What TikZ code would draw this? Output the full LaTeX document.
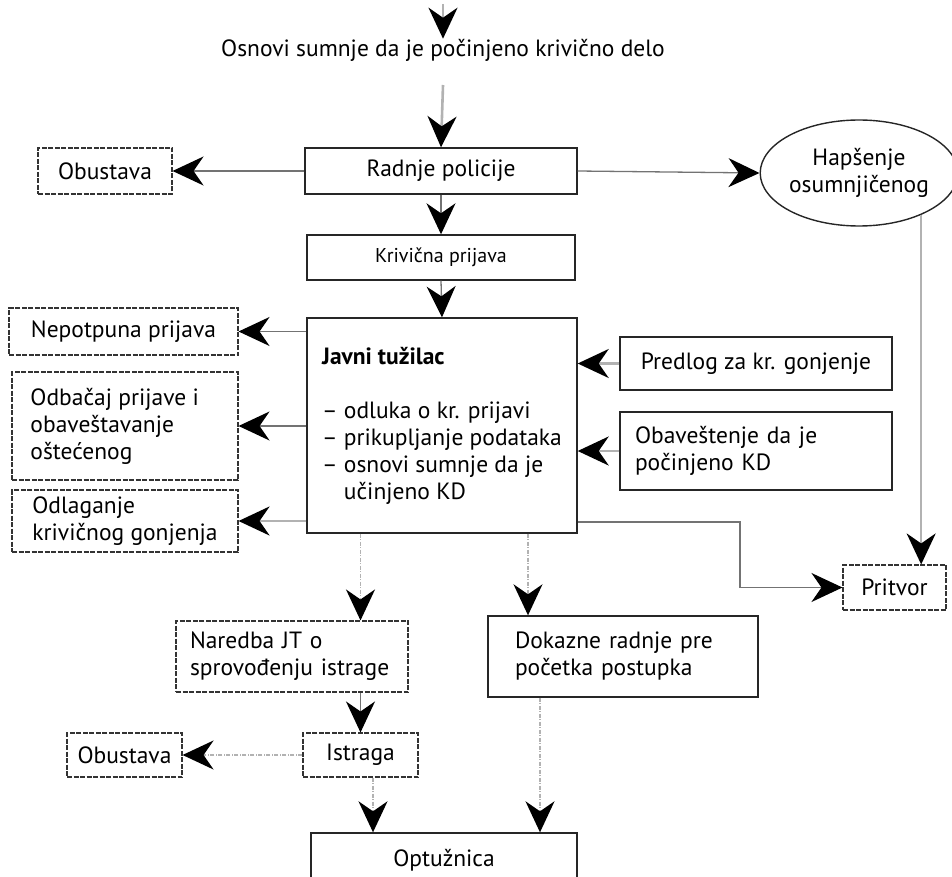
\documentclass[tikz,border=0pt]{standalone}
\usepackage{fontspec}
\setmainfont{PT Sans}
\usepackage{tikz}
\usetikzlibrary{arrows.meta,shapes.geometric}

\begin{document}
\begin{tikzpicture}[x=1pt, y=-1pt, font=\fontsize{23.5}{27}\selectfont,
  >={Stealth[length=31pt, width=29pt, inset=10pt, black]},
  box/.style = {draw=black!85, line width=1.4pt, inner sep=0pt},
  dbox/.style = {draw=black!80, line width=1.1pt, dash pattern=on 5pt off 1.5pt, inner sep=0pt},
  ln/.style = {draw=black!55, line width=1.3pt},
  lg/.style = {draw=black!30, line width=2.6pt},
  ld/.style = {draw=black!30, line width=1.6pt, dash pattern=on 4pt off 1.5pt on 1pt off 1.5pt}]
                \clip (0,0) rectangle (952,877);
                \coordinate (top) at (443,4);
                \coordinate (a1) at (443,85);
                \node[inner sep=0pt] (osn) at (443,50) {Osnovi sumnje da je počinjeno krivično delo};
                \node[box, minimum width=272, minimum height=46] (rad) at (441,171) {Radnje policije};
                \node[dbox, minimum width=134, minimum height=46] (obu1) at (105,171) {Obustava};
                \node[draw=black!85, line width=1.4pt, ellipse, inner sep=0pt, minimum width=186, minimum height=106, align=center] (hap) at (859,173) {Hapšenje\\osumnjičenog};
                \node[box, minimum width=268, minimum height=45, font=\fontsize{20}{22}\selectfont] (kp) at (441,257.5) {Krivična prijava};
                \node[box, minimum width=270, minimum height=215, align=left] (jt) at (442,425.5) {\textbf{Javni tužilac}\\[27pt]– odluka o kr. prijavi\\– prikupljanje podataka\\– osnovi sumnje da je\\\hphantom{– }učinjeno KD};
                \node[dbox, minimum width=229, minimum height=47] (nep) at (123.5,331.5) {Nepotpuna prijava};
                \node[dbox, minimum width=226, minimum height=108, align=left] (odb) at (125,426) {Odbačaj prijave i\\obaveštavanje\\oštećenog\hphantom{gonjenja}};
                \node[dbox, minimum width=226, minimum height=62, align=left] (odl) at (125,521) {Odlaganje\\krivičnog gonjenja};
                \node[box, minimum width=272, minimum height=53] (pre) at (756,363.5) {Predlog za kr. gonjenje};
                \node[box, minimum width=272, minimum height=78, text width=242, align=left] (oba) at (756,451) {Obaveštenje da je\\počinjeno KD};
                \node[dbox, minimum width=103, minimum height=45] (pr) at (894.5,587.5) {Pritvor};
                \node[dbox, minimum width=232, minimum height=71, text width=204, align=left] (nar) at (292,656.5) {Naredba JT o\\sprovođenju istrage};
                \node[box, minimum width=270, minimum height=81, text width=216, align=left] (dr) at (623,656.5) {Dokazne radnje pre\\početka postupka};
                \node[dbox, minimum width=115, minimum height=44] (ist) at (360.5,755) {Istraga};
                \node[dbox, minimum width=115, minimum height=44] (obu2) at (124.5,755) {Obustava};
                \node[box, minimum width=266, minimum height=54] (opt) at (444,860) {Optužnica};
                \coordinate (kink) at (740,522);
                \coordinate (xa) at (528,600);
                \coordinate (xb) at (540,760);
                \coordinate (xc) at (373,800);
                \draw[->, lg] (top) -- (osn.north);
                \draw[->, lg] (a1) -- (rad.north);
                \draw[->, ln] (rad.west) -- (obu1.east);
                \draw[->, ln] (rad.east) -- (hap.west);
                \draw[->, ln] (rad.south) -- (kp.north);
                \draw[->, ln] (kp.south) -- (jt.north);
                \draw[->, ln] (jt.west |- nep.east) -- (nep.east);
                \draw[->, ln] (jt.west |- odb.east) -- (odb.east);
                \draw[->, lg] (jt.west |- odl.east) -- (odl.east);
                \draw[->, lg] (pre.west) -- (jt.east |- pre.west);
                \draw[->, lg] (oba.west) -- (jt.east |- oba.west);
                \draw[->, ln] (jt.east |- kink) -| (kink |- pr.west) -- (pr.west);
                \draw[->, lg] (hap.-34) -- (hap.-34 |- pr.north);
                \draw[->, ld] (jt.south -| ist.north) -- (nar.north -| ist.north);
                \draw[->, ld] (jt.south -| xa) -- (dr.north -| xa);
                \draw[->, ln] (nar.south -| ist.north) -- (ist.north);
                \draw[->, ld] (ist.west) -- (obu2.east);
                \draw[->, ld] (ist.south -| xc) -- (opt.north -| xc);
                \draw[->, ld] (dr.south -| xb) -- (opt.north -| xb);
            \end{tikzpicture}
\end{document}
